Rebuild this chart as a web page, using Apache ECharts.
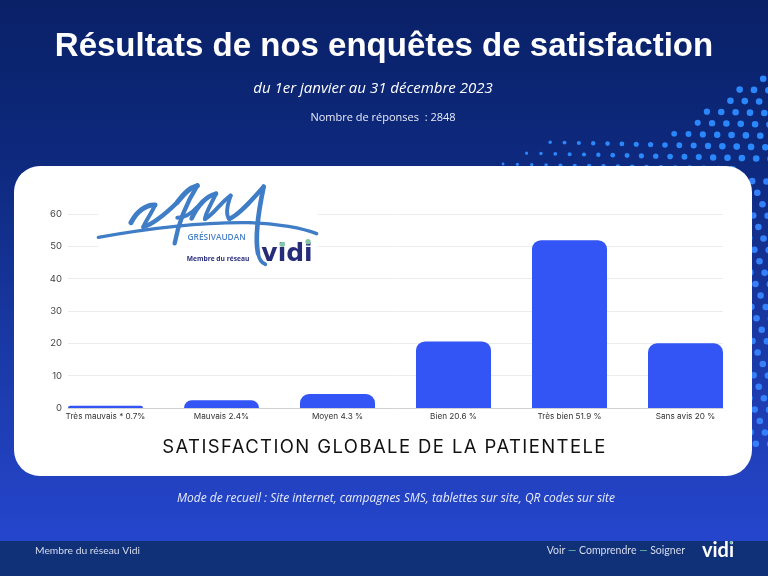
<!DOCTYPE html>
<html>
<head>
<meta charset="utf-8">
<style>
  html, body { margin: 0; padding: 0; background: #0b2369; }
  #wrap { position: relative; width: 768px; height: 576px; overflow: hidden; }
  #main { width: 768px; height: 576px; }
  #cardTitle {
    position: absolute; left: 14px; width: 741px; top: 435px; text-align: center;
    font: 400 18.5px Inter, sans-serif; letter-spacing: 1.4px; color: #111; white-space: nowrap;
  }
</style>
</head>
<body>
<div id="wrap">
  <div id="main"></div>
  <div id="cardTitle">SATISFACTION GLOBALE DE LA PATIENTELE</div>
</div>
<script src="https://cdn.jsdelivr.net/npm/echarts@6/dist/echarts.min.js"></script>
<script>
var categories = ['Très mauvais * 0.7%', 'Mauvais 2.4%', 'Moyen 4.3 %', 'Bien 20.6 %', 'Très bien 51.9 %', 'Sans avis 20 %'];
var satisfaction = [0.7, 2.4, 4.3, 20.6, 51.9, 20];

var titleText = 'Résultats de nos enquêtes de satisfaction';
var periodText = 'du 1er janvier au 31 décembre 2023';
var responsesText = 'Nombre de réponses  : 2848';
var methodText = 'Mode de recueil : Site internet, campagnes SMS, tablettes sur site, QR codes sur site';

// dotted pattern on the right of the page: one lattice, cut row by row
function dots() {
  var out = [];
  var rowStart = [[78, 752], [89, 733], [100, 722], [111, 701], [122, 692], [133, 668], [142, 545], [153, 522], [164, 499]];
  for (var j = -12; j < 30; j++) {
    for (var i = -30; i < 40; i++) {
      var x = 757.3 + 14.35 * i - 9.2 * j;
      var y = 192.7 + 0.33 * i + 11.2 * j;
      if (x < 495 || x > 775 || y < 72 || y > 447) continue;
      if (y < 170) {
        var limit = 9999;
        rowStart.forEach(function (r) {
          if (Math.abs(r[0] - y) < 5.6) limit = r[1];
        });
        if (x < limit) continue;
      }
      var r = Math.min(3.3, 1.4 + (x - 500) / 120);
      out.push({
        type: 'circle', silent: true, z: -9,
        shape: { cx: x, cy: y, r: r },
        style: { fill: y > 170 ? '#3580f8' : '#2b88fc' }
      });
    }
  }
  return out;
}

// hand script of the logo, in a 3x box
var logoStrokes = [
  [10, [25, 187, 120, 170, 300, 140, 480, 143, 560, 145, 640, 160, 680, 176]],
  [15, [123, 143, 140, 108, 170, 88, 195, 90]],
  [12, [195, 90, 185, 115, 168, 135, 160, 156]],
  [13, [160, 156, 185, 148, 225, 118, 262, 82]],
  [15, [262, 82, 285, 52, 300, 38, 322, 32]],
  [13, [322, 32, 298, 70, 268, 130, 254, 205]],
  [12, [262, 128, 285, 128, 305, 115, 322, 96]],
  [14, [305, 130, 322, 92, 350, 62, 378, 56]],
  [12, [378, 56, 362, 90, 345, 118, 345, 132]],
  [12, [345, 132, 372, 118, 392, 82, 422, 62]],
  [12, [422, 62, 412, 90, 405, 118, 418, 132]],
  [13, [418, 132, 450, 118, 490, 70, 521, 35]],
  [14, [521, 35, 505, 110, 495, 190, 504, 235]],
  [11, [504, 235, 508, 255, 518, 265, 526, 268]]
];

function logo() {
  var children = [{
    type: 'rect', shape: { x: 24, y: 15, width: 660, height: 270 },
    style: { fill: '#fff' }, z: 10
  }];
  logoStrokes.forEach(function (s) {
    var p = s[1];
    for (var k = 0; k + 7 < p.length; k += 6) {
      children.push({
        type: 'bezierCurve', z: 11,
        shape: { x1: p[k], y1: p[k + 1], cpx1: p[k + 2], cpy1: p[k + 3], cpx2: p[k + 4], cpy2: p[k + 5], x2: p[k + 6], y2: p[k + 7] },
        style: { stroke: '#3f7dc6', lineWidth: s[0], lineCap: 'round', fill: null }
      });
    }
  });
  children.push(
    { type: 'text', z: 11, x: 380, y: 187, style: { text: 'GRÉSIVAUDAN', fill: '#4a82c8', font: '600 25px "Open Sans"', align: 'center', verticalAlign: 'middle' } },
    { type: 'text', z: 11, x: 290, y: 253, style: { text: 'Membre du réseau', fill: '#2a2f7c', font: 'bold 20px "Open Sans"', align: 'left', verticalAlign: 'middle' } },
    { type: 'text', z: 11, x: 591, y: 238, style: { text: 'vidi', fill: '#262c78', font: 'bold 75px "DejaVu Sans"', align: 'center', verticalAlign: 'middle' } },
    { type: 'circle', z: 12, shape: { cx: 577, cy: 208, r: 8 }, style: { fill: '#86c7a8' } },
    { type: 'circle', z: 12, shape: { cx: 654, cy: 200, r: 8 }, style: { fill: '#86c7a8' } }
  );
  return { type: 'group', x: 90, y: 175, scaleX: 1 / 3, scaleY: 1 / 3, children: children };
}

function label(text, x, y, font, fill, align, rich) {
  return {
    type: 'text', x: x, y: y, z: 5, silent: true,
    style: { text: text, font: font, fill: fill, align: align || 'center', verticalAlign: 'middle', rich: rich }
  };
}

var page = [
  {
    type: 'rect', z: -10, silent: true, shape: { x: 0, y: 0, width: 768, height: 576 },
    style: {
      fill: new echarts.graphic.LinearGradient(0, 0, 0, 1, [
        { offset: 0, color: '#0a2167' },
        { offset: 0.3, color: '#0e2a80' },
        { offset: 0.65, color: '#1b3bab' },
        { offset: 0.93, color: '#2545cc' }
      ])
    }
  }
].concat(dots()).concat([
  {
    type: 'rect', z: -8, silent: true, shape: { x: 14, y: 166, width: 738, height: 310, r: 26 },
    style: { fill: '#fff' }
  },
  {
    type: 'rect', z: -8, silent: true, shape: { x: 0, y: 541, width: 768, height: 35 },
    style: { fill: '#103078' }
  },
  label(titleText, 384, 47, 'bold 33px "Liberation Sans"', '#fff'),
  label(periodText, 373, 89, 'italic 15px "Open Sans"', '#fff'),
  label(responsesText, 383, 118, '11px "Open Sans"', '#e8ecf8'),
  label(methodText, 396, 499, 'italic 12px "Open Sans"', '#e8ecf8'),
  label('Membre du réseau Vidi', 35, 551, '10.3px Lato', '#d5dcee', 'left'),
  label('Voir {d|—} Comprendre {d|—} Soigner', 685, 551, '10.5px Lato', '#d5dcee', 'right', {
    d: { fill: '#6fc7a0', font: '10.5px Lato' }
  }),
  label('vidi', 718, 551, 'bold 20px Lato', '#fff'),
  { type: 'circle', z: 6, silent: true, shape: { cx: 731, cy: 542.5, r: 1.4 }, style: { fill: '#6fc7a0' } },
  logo()
]);

var chart = echarts.init(document.getElementById('main'), null, { renderer: 'canvas' });
chart.setOption({
  animation: false,
  textStyle: { fontFamily: 'Inter' },
  graphic: { elements: page },
  // the frame (grid lines, baseline) is narrower than the bar bands
  grid: [
    { left: 68, right: 45, top: 214, bottom: 168 },
    { left: 47.5, width: 696, top: 214, bottom: 168 }
  ],
  xAxis: [
    {
      type: 'category', gridIndex: 0, data: [],
      axisTick: { show: false }, axisLabel: { show: false },
      axisLine: { lineStyle: { color: '#d2d2d2', width: 1 } }
    },
    {
      type: 'category', gridIndex: 1, data: categories,
      axisLine: { show: false }, axisTick: { show: false },
      axisLabel: { interval: 0, fontSize: 8.2, color: '#333', margin: 5 }
    }
  ],
  yAxis: [
    {
      type: 'value', gridIndex: 0, min: 0, max: 60, interval: 10,
      axisLine: { show: false }, axisTick: { show: false },
      axisLabel: { fontSize: 9.5, color: '#444', margin: 6 },
      splitLine: { lineStyle: { color: '#ececec', width: 1 } }
    },
    {
      type: 'value', gridIndex: 1, min: 0, max: 60, interval: 10, show: false
    }
  ],
  series: [{
    type: 'bar',
    xAxisIndex: 1,
    yAxisIndex: 1,
    data: satisfaction,
    barWidth: 75,
    itemStyle: { color: '#3355f5', borderRadius: [9, 9, 0, 0] }
  }]
});
</script>
</body>
</html>
